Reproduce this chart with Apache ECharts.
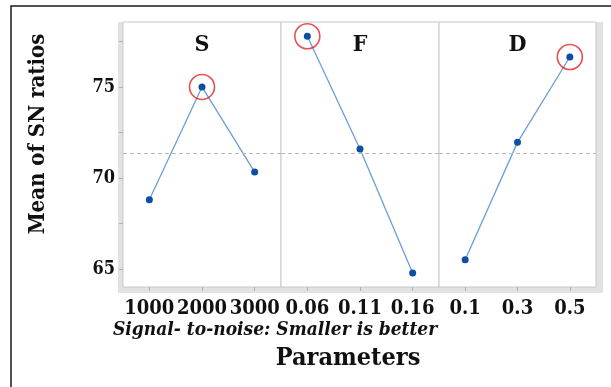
<!DOCTYPE html>
<html>
<head>
<meta charset="utf-8">
<script src="https://cdn.jsdelivr.net/npm/echarts@6/dist/echarts.min.js"></script>
<style>
  html, body { margin: 0; padding: 0; background: #fff; }
  #main { width: 611px; height: 387px; }
</style>
</head>
<body>
<div id="main"></div>
<script>
// Main effects plot for SN ratios — three factor panels sharing one y scale

// ── Data ────────────────────────────────────────────────────────────────
const panelNames = ['S', 'F', 'D'];
const sLevels = ['1000', '2000', '3000'];
const fLevels = ['0.06', '0.11', '0.16'];
const dLevels = ['0.1', '0.3', '0.5'];
const sMeans = [68.81, 75.0, 70.33];
const fMeans = [77.78, 71.6, 64.8];
const dMeans = [65.53, 71.96, 76.64];
const yLabelTicks = [65, 70, 75];
const yMinorTicks = [65, 67.5, 70, 72.5, 75, 77.5];
const yRange = [64.03, 78.56];

const levels = [sLevels, fLevels, dLevels];
const means = [sMeans, fMeans, dMeans];

// ── Styles ──────────────────────────────────────────────────────────────
const serif = "'DejaVu Serif Condensed', 'DejaVu Serif', serif";
const textColor = '#111';
const frameColor = '#c8c8c8';
const bandColor = '#e2e2e2';
const pointColor = '#0b4ea2';
const lineColor = '#6a9ed8';
const circleColor = '#e42424';

const panelLeft = [123, 281, 439];
const panelWidth = [158, 158, 157];
const plotTop = 22;
const plotHeight = 265;

const all = [].concat(sMeans, fMeans, dMeans);
const grandMean = all.reduce((a, v) => a + v, 0) / all.length;

const grids = [{
  left: 118, top: plotTop, width: 485, height: plotHeight + 6,
  show: true, backgroundColor: bandColor, borderWidth: 0
}];
const xAxes = [];
const yAxes = [];
const series = [];

panelNames.forEach((name, i) => {
  grids.push({
    left: panelLeft[i], top: plotTop, width: panelWidth[i], height: plotHeight,
    show: true, backgroundColor: '#fff', borderColor: frameColor, borderWidth: 1
  });
  xAxes.push({
    type: 'category', gridIndex: i + 1, data: levels[i], boundaryGap: true,
    axisLine: { show: false },
    axisTick: { show: true, alignWithLabel: true, length: 4, lineStyle: { color: '#b0b0b0' } },
    axisLabel: { interval: 0, fontFamily: serif, fontWeight: 'bold', fontSize: 20, color: textColor, margin: 12 },
    splitLine: { show: false }
  });
  yAxes.push({
    type: 'value', gridIndex: i + 1, min: yRange[0], max: yRange[1],
    axisLine: { show: false },
    splitLine: { show: false },
    axisTick: {
      show: i === 0, length: 4, customValues: yMinorTicks,
      lineStyle: { color: '#b0b0b0' }
    },
    axisLabel: {
      show: i === 0, customValues: yLabelTicks, margin: 8,
      fontFamily: serif, fontWeight: 'bold', fontSize: 18, color: textColor
    }
  });
  series.push({
    type: 'line', xAxisIndex: i, yAxisIndex: i, data: means[i],
    symbol: 'circle', symbolSize: 7,
    itemStyle: { color: pointColor },
    lineStyle: { color: lineColor, width: 1.3 },
    z: 3,
    markLine: {
      silent: true, symbol: 'none', label: { show: false },
      lineStyle: { color: '#b8b8b8', type: [4, 3], width: 1 },
      data: [{ yAxis: grandMean }]
    }
  });
  // red ring around the best (highest SN) level
  const best = means[i].indexOf(Math.max.apply(null, means[i]));
  series.push({
    type: 'scatter', xAxisIndex: i, yAxisIndex: i,
    data: [[best, means[i][best]]],
    symbol: 'circle', symbolSize: 25,
    itemStyle: { color: 'rgba(0,0,0,0)', borderColor: circleColor, borderWidth: 1.6 },
    z: 4
  });
});

// hidden axes for the background band grid
xAxes.push({ type: 'value', gridIndex: 0, show: false });
yAxes.push({ type: 'value', gridIndex: 0, show: false });

const chart = echarts.init(document.getElementById('main'), null, { renderer: 'canvas' });
chart.setOption({
  animation: false,
  backgroundColor: '#fff',
  grid: grids,
  xAxis: xAxes,
  yAxis: yAxes,
  series: series,
  graphic: [
    { type: 'rect', shape: { x: 11, y: 6, width: 700, height: 500 },
      style: { fill: 'none', stroke: '#1a1a1a', lineWidth: 1.5 }, z: 10 },
    { type: 'text', x: 38, y: 134, rotation: Math.PI / 2,
      style: { text: 'Mean of SN ratios', font: "bold 22px 'DejaVu Serif Condensed', 'DejaVu Serif'", fill: textColor,
               textAlign: 'center', textVerticalAlign: 'middle' } },
    ...panelNames.map((name, i) => ({
      type: 'text', x: panelLeft[i] + panelWidth[i] / 2, y: 45,
      style: { text: name, font: "bold 23px 'DejaVu Serif Condensed', 'DejaVu Serif'", fill: textColor,
               textAlign: 'center', textVerticalAlign: 'middle' }, z: 5
    })),
    { type: 'text', x: 113, y: 330,
      style: { text: 'Signal- to-noise: Smaller is better', font: "italic bold 19px 'DejaVu Serif Condensed', 'DejaVu Serif'",
               fill: textColor, textAlign: 'left', textVerticalAlign: 'middle' } },
    { type: 'text', x: 348, y: 358,
      style: { text: 'Parameters', font: "bold 25px 'DejaVu Serif Condensed', 'DejaVu Serif'", fill: textColor,
               textAlign: 'center', textVerticalAlign: 'middle' } }
  ]
});
</script>
</body>
</html>
